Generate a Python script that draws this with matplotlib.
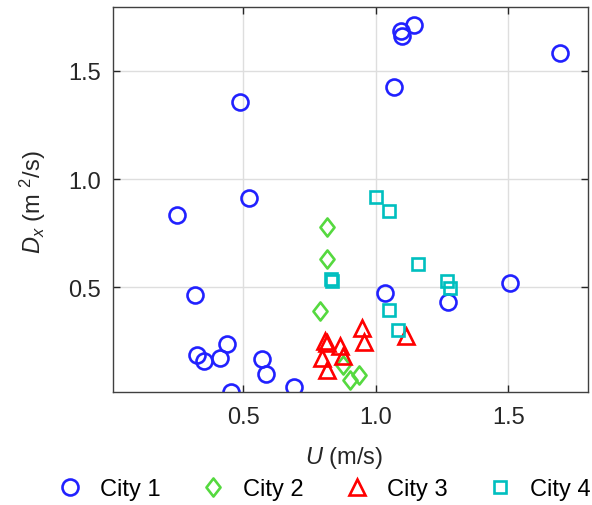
import matplotlib
matplotlib.use("Agg")
import matplotlib.pyplot as plt
from matplotlib.path import Path

plt.rcParams['font.family'] = ['Liberation Sans', 'DejaVu Sans']
plt.rcParams['mathtext.fontset'] = 'custom'
plt.rcParams['mathtext.rm'] = 'Liberation Sans'
plt.rcParams['mathtext.it'] = 'Liberation Sans:italic'

city1_u = [1.094, 1.100, 1.145, 1.695, 1.068, 0.490, 0.523, 0.250, 0.318, 1.034,
           1.274, 1.506, 0.441, 0.326, 0.352, 0.415, 0.571, 0.587, 0.454, 0.692]
city1_d = [1.686, 1.663, 1.714, 1.582, 1.427, 1.357, 0.911, 0.835, 0.464, 0.475,
           0.433, 0.521, 0.239, 0.185, 0.157, 0.174, 0.169, 0.098, 0.014, 0.039]

city2_u = [0.817, 0.815, 0.789, 0.877, 0.903, 0.938]
city2_d = [0.778, 0.630, 0.390, 0.141, 0.071, 0.095]

city3_u = [0.949, 0.957, 1.114, 0.808, 0.815, 0.865, 0.877, 0.796, 0.817]
city3_d = [0.313, 0.247, 0.273, 0.250, 0.240, 0.227, 0.180, 0.172, 0.118]

city4_u = [1.003, 1.051, 1.159, 0.831, 0.835, 1.270, 1.280, 1.051, 1.085]
city4_d = [0.915, 0.852, 0.609, 0.537, 0.530, 0.529, 0.494, 0.393, 0.304]

labels = ['City 1', 'City 2', 'City 3', 'City 4']
xticks = [0.5, 1.0, 1.5]
yticks = [0.5, 1.0, 1.5]

diamond = Path([(0, 1), (0.78, 0), (0, -1), (-0.78, 0), (0, 1)],
               [Path.MOVETO, Path.LINETO, Path.LINETO, Path.LINETO, Path.CLOSEPOLY])

fig = plt.figure(figsize=(5.92, 5.06), dpi=100)
ax = fig.add_axes([0.191, 0.2233, 0.802, 0.7607])

ax.plot(city1_u, city1_d, 'o', ls='none', mfc='none', mec='#2121FF', ms=11.5, mew=1.9, label=labels[0])
ax.plot(city2_u, city2_d, marker=diamond, ls='none', mfc='none', mec='#55D93F', ms=13, mew=1.9, label=labels[1])
ax.plot(city3_u, city3_d, '^', ls='none', mfc='none', mec='#FF0000', ms=12, mew=1.9, label=labels[2])
ax.plot(city4_u, city4_d, 's', ls='none', mfc='none', mec='#00BFBF', ms=8.5, mew=1.9, label=labels[3])

ax.set_xlim(0.01, 1.8)
ax.set_ylim(0.015, 1.795)
ax.set_xticks(xticks)
ax.set_yticks(yticks)
ax.set_xticklabels(['0.5', '1.0', '1.5'])
ax.set_yticklabels(['0.5', '1.0', '1.5'])
ax.grid(True, color='#DEDEDE', lw=1)
ax.set_axisbelow(True)
ax.tick_params(axis='x', pad=10)
ax.tick_params(axis='y', pad=9)
ax.tick_params(direction='in', top=True, right=True, labelsize=17, colors='#262626', length=5, width=1)
for s in ax.spines.values():
    s.set_color('#404040')
    s.set_linewidth(1)

ax.set_xlabel(r'$U$ (m/s)', fontsize=17, color='#262626')
ax.xaxis.label.set_va('center')
ax.xaxis.set_label_coords(0.486, -0.17)
ax.set_ylabel(r'$D_x$ (m $^2$/s)', fontsize=17, color='#262626')
ax.yaxis.label.set_va('center')
ax.yaxis.set_label_coords(-0.168, 0.496)

fig.legend(loc='center', bbox_to_anchor=(0.548, 0.032), ncol=4, frameon=False,
           fontsize=17, handletextpad=0.77, columnspacing=1.72, handlelength=1.0,
           borderaxespad=0, borderpad=0)

fig.savefig('out.png', dpi=100)
